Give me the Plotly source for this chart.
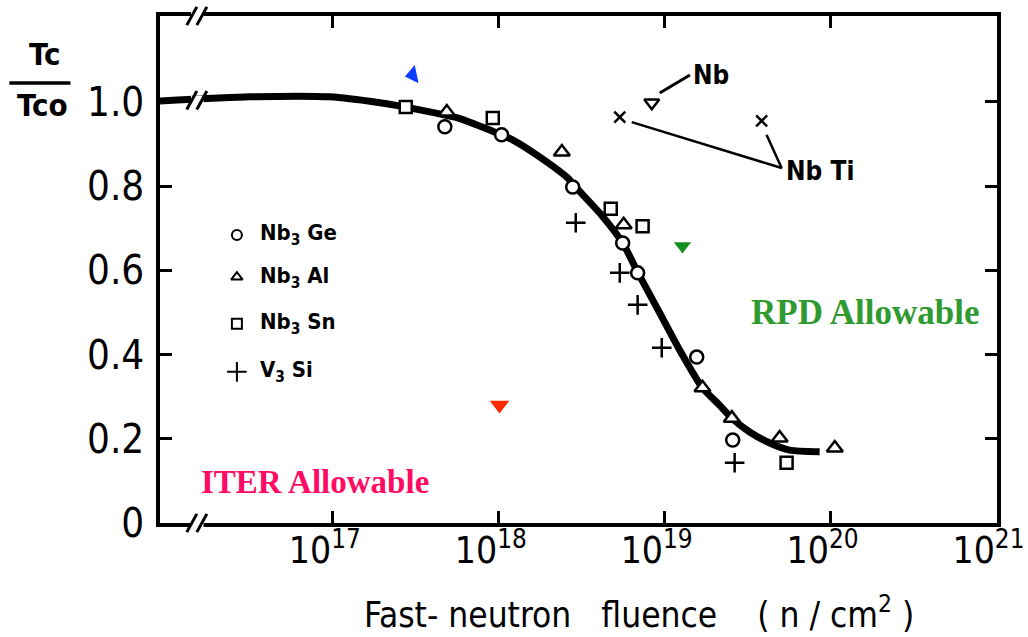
import math
import plotly.graph_objects as go

# ---------------- data ----------------
curve_fluence = [9.08e15, 3.16e16, 9.6e16, 1.92e17, 2.72e17, 4.11e17, 5.66e17, 8.83e17,
                 1.04e18, 1.21e18, 1.77e18, 2.61e18, 2.87e18, 4.06e18, 5.58e18, 6.87e18,
                 9.33e18, 1.23e19, 1.69e19, 2.14e19, 2.54e19, 3.25e19, 4.30e19, 5.66e19, 8.59e19]
curve_ratio = [1.002, 1.012, 1.012, 0.998, 0.988, 0.974, 0.962, 0.933,
               0.921, 0.910, 0.869, 0.819, 0.800, 0.736, 0.665, 0.596,
               0.499, 0.411, 0.321, 0.280, 0.249, 0.216, 0.190, 0.173, 0.169]

nb3ge_x = [4.73e17, 1.04e18, 2.79e18, 5.58e18, 6.87e18, 1.56e19, 2.57e19]
nb3ge_y = [0.941, 0.922, 0.798, 0.665, 0.594, 0.394, 0.197]

nb3al_x = [4.86e17, 2.40e18, 5.66e18, 1.69e19, 2.54e19, 4.93e19, 1.06e20]
nb3al_y = [0.976, 0.881, 0.708, 0.321, 0.249, 0.202, 0.178]

nb3sn_x = [2.75e17, 9.2e17, 4.73e18, 7.36e18, 5.43e19]
nb3sn_y = [0.988, 0.962, 0.746, 0.705, 0.143]

v3si_x = [2.91e18, 5.36e18, 6.87e18, 9.6e18, 2.64e19]
v3si_y = [0.713, 0.594, 0.518, 0.416, 0.143]

nb_x = [8.36e18]
nb_y = [0.998]

nbti_x = [5.36e18, 3.84e19]
nbti_y = [0.964, 0.955]

# leader lines (label pointers)
nb_leader_x = [9.33e18, 1.42e19]
nb_leader_y = [1.021, 1.064]
nbti_leader_x = [6.33e18, 5.07e19, 4.11e19]
nbti_leader_y = [0.952, 0.843, 0.922]

# coloured allowable markers
blue_x, blue_y = [3.03e17], [1.064]
green_x, green_y = [1.28e19], [0.658]
red_x, red_y = [1.01e18], [0.280]

# legend
legend_names = ["Nb<sub>3</sub> Ge", "Nb<sub>3</sub> Al", "Nb<sub>3</sub> Sn", "V<sub>3</sub> Si"]
legend_symbols = ["circle", "triangle-up", "square", "cross-thin"]
legend_y = [0.684, 0.584, 0.473, 0.359]
legend_marker_x = 2.64e16
legend_text_x = 3.53e16

x_tickvals = [1e17, 1e18, 1e19, 1e20, 1e21]
x_ticktext = ["10<sup>17</sup>", "10<sup>18</sup>", "10<sup>19</sup>", "10<sup>20</sup>", "10<sup>21</sup>"]
y_tickvals = [0, 0.2, 0.4, 0.6, 0.8, 1.0]
y_ticktext = ["0", "0.2", "0.4", "0.6", "0.8", "1.0"]

NARROW = "DejaVu Sans Condensed, DejaVu Sans, sans-serif"
SERIF = "Liberation Serif, Times New Roman, serif"

fig = go.Figure()

# main curve
fig.add_trace(go.Scatter(x=curve_fluence, y=curve_ratio, mode="lines",
                         line=dict(color="black", width=7, shape="spline", smoothing=0.6),
                         hoverinfo="skip"))

def open_marker(symbol, size, lw=2.5):
    return dict(symbol=symbol, size=size, color="white", line=dict(color="black", width=lw))

fig.add_trace(go.Scatter(x=nb3ge_x, y=nb3ge_y, mode="markers", marker=open_marker("circle", 13)))
fig.add_trace(go.Scatter(x=nb3al_x, y=nb3al_y, mode="markers", marker=open_marker("triangle-up", 14)))
fig.add_trace(go.Scatter(x=nb3sn_x, y=nb3sn_y, mode="markers", marker=open_marker("square", 12)))
fig.add_trace(go.Scatter(x=v3si_x, y=v3si_y, mode="markers",
                         marker=dict(symbol="cross-thin", size=14, line=dict(color="black", width=2.5))))
fig.add_trace(go.Scatter(x=nb_x, y=nb_y, mode="markers", marker=open_marker("triangle-down", 13)))
fig.add_trace(go.Scatter(x=nbti_x, y=nbti_y, mode="markers",
                         marker=dict(symbol="x-thin", size=11, line=dict(color="black", width=2.5))))

# leader lines
fig.add_trace(go.Scatter(x=nb_leader_x, y=nb_leader_y, mode="lines", line=dict(color="black", width=3)))
fig.add_trace(go.Scatter(x=nbti_leader_x, y=nbti_leader_y, mode="lines", line=dict(color="black", width=2.5)))

# coloured markers
fig.add_trace(go.Scatter(x=blue_x, y=blue_y, mode="markers",
                         marker=dict(symbol="triangle-left", size=16, color="#0a3cff", angle=-12)))
fig.add_trace(go.Scatter(x=green_x, y=green_y, mode="markers",
                         marker=dict(symbol="triangle-down", size=15, color="#14901e")))
fig.add_trace(go.Scatter(x=red_x, y=red_y, mode="markers",
                         marker=dict(symbol="triangle-down", size=17, color="#ff2a00")))

# legend markers
for sym, ly in zip(legend_symbols, legend_y):
    if sym == "cross-thin":
        mk = dict(symbol=sym, size=14, line=dict(color="black", width=2))
    else:
        mk = open_marker(sym, 10, 2)
    fig.add_trace(go.Scatter(x=[legend_marker_x], y=[ly], mode="markers", marker=mk))

annotations = []
for name, ly in zip(legend_names, legend_y):
    annotations.append(dict(x=math.log10(legend_text_x), y=ly, xref="x", yref="y", text="<b>" + name + "</b>",
                            showarrow=False, xanchor="left", yanchor="middle",
                            font=dict(family=NARROW, size=22, color="black")))

# labels Nb, Nb Ti
annotations.append(dict(x=math.log10(nb_leader_x[1]), y=nb_leader_y[1], xref="x", yref="y",
                        text="<b>Nb</b>", showarrow=False, xanchor="left", yanchor="middle", xshift=1,
                        font=dict(family=NARROW, size=26, color="black")))
annotations.append(dict(x=math.log10(nbti_leader_x[1]), y=nbti_leader_y[1], xref="x", yref="y",
                        text="<b>Nb Ti</b>", showarrow=False, xanchor="left", yanchor="top", xshift=2, yshift=14,
                        font=dict(family=NARROW, size=26, color="black")))

# allowable texts
annotations.append(dict(x=0.185, y=0.08, xref="paper", yref="paper", text="<b>ITER Allowable</b>",
                        showarrow=False, xanchor="center", yanchor="middle",
                        font=dict(family=SERIF, size=33, color="#ff0a64")))
annotations.append(dict(x=0.842, y=0.415, xref="paper", yref="paper", text="<b>RPD Allowable</b>",
                        showarrow=False, xanchor="center", yanchor="middle",
                        font=dict(family=SERIF, size=35, color="#2f9a2f")))

# x-axis title
annotations.append(dict(x=0.572, y=-0.176, xref="paper", yref="paper",
                        text="Fast- neutron   fluence    ( n / cm<sup>2</sup> )",
                        showarrow=False, xanchor="center", yanchor="middle",
                        font=dict(family=NARROW, size=35, color="black")))

# y-axis label (fraction)
annotations.append(dict(x=-0.138, y=0.925, xref="paper", yref="paper", text="<b>Tc</b>",
                        showarrow=False, xanchor="center", yanchor="middle",
                        font=dict(family=NARROW, size=31, color="black")))
annotations.append(dict(x=-0.14, y=0.825, xref="paper", yref="paper", text="<b>Tco</b>",
                        showarrow=False, xanchor="center", yanchor="middle",
                        font=dict(family=NARROW, size=31, color="black")))

shapes = []
# fraction bar
shapes.append(dict(type="line", xref="paper", yref="paper", x0=-0.180, x1=-0.107, y0=0.868, y1=0.868,
                   line=dict(color="black", width=3.5)))

# axis break marks
def break_mark(yref, yc, dy):
    out = [dict(type="rect", xref="x domain", yref=yref, x0=0.037, x1=0.052,
                y0=yc - dy * 0.5, y1=yc + dy * 0.5, fillcolor="white", line=dict(width=0), layer="above")]
    for xc in (0.038, 0.050):
        out.append(dict(type="line", xref="x domain", yref=yref, x0=xc - 0.006, x1=xc + 0.006,
                        y0=yc - dy, y1=yc + dy, line=dict(color="black", width=3), layer="above"))
    return out

shapes += break_mark("y domain", 0.0, 0.018)
shapes += break_mark("y domain", 1.0, 0.018)
shapes += break_mark("y", 1.004, 0.022)

fig.update_layout(
    width=1028, height=637,
    margin=dict(l=160, r=31, t=16, b=114, autoexpand=False),
    paper_bgcolor="white", plot_bgcolor="white",
    showlegend=False,
    annotations=annotations,
    shapes=shapes,
    xaxis=dict(type="log", range=[math.log10(curve_fluence[0]), 21.003],
               tickvals=x_tickvals, ticktext=x_ticktext, automargin=False,
               ticks="inside", ticklen=12, tickwidth=3, tickcolor="black",
               showline=True, linewidth=3.5, linecolor="black", mirror="ticks",
               showgrid=False, zeroline=False, ticklabelstandoff=-8, ticklabelshift=-8,
               ticklabeloverflow="allow",
               tickfont=dict(family=NARROW, size=37, color="black")),
    yaxis=dict(range=[0, 1.204], tickvals=y_tickvals, ticktext=y_ticktext, automargin=False,
               ticks="inside", ticklen=12, tickwidth=3, tickcolor="black",
               showline=True, linewidth=3.5, linecolor="black", mirror="ticks",
               showgrid=False, zeroline=False, ticklabelstandoff=4,
               tickfont=dict(family=NARROW, size=40, color="black")),
)

fig.write_html("out.html")
